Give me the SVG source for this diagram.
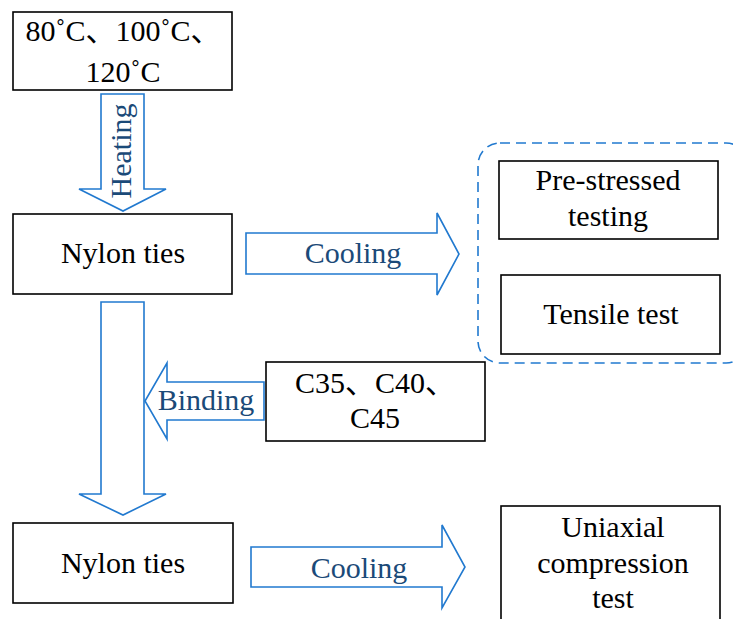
<svg xmlns="http://www.w3.org/2000/svg" width="733" height="619" viewBox="0 0 733 619">
<style>
.box{fill:#fff;stroke:#000;stroke-width:1.6}
.arr{fill:#fff;stroke:#2179CF;stroke-width:1.6;stroke-linejoin:miter}
.t{font-family:'Liberation Serif','Times New Roman','DejaVu Serif',serif;font-size:30px;fill:#000;text-anchor:middle}
.l{font-family:'Liberation Serif','Times New Roman','DejaVu Serif',serif;font-size:30px;fill:#1B4A78;text-anchor:middle}
.cjk{font-family:'Noto Sans CJK SC',sans-serif}
.dash{fill:none;stroke:#2179CF;stroke-width:1.6;stroke-dasharray:10 6}
</style>
<rect width="733" height="619" fill="#fff"/>
<g id="connectors">
<g id="heating">
<polygon class="arr" points="101,94 144,94 144,189 166,189 123,211 79,189 101,189"/>
<text class="l" transform="translate(131,151) rotate(-90)">Heating</text>
</g>
<g id="cooling1">
<polygon class="arr" points="246,233 437,233 437,213 459,254 437,295 437,274 246,274"/>
<text class="l" x="353" y="263">Cooling</text>
</g>
<g id="down">
<polygon class="arr" points="101,302 144,302 144,494 166,494 123,515 79,494 101,494"/>
</g>
<g id="binding">
<polygon class="arr" points="264,382 167,382 167,363 145,401 167,439 167,420 264,420"/>
<text class="l" x="206" y="410">Binding</text>
</g>
<g id="cooling2">
<polygon class="arr" points="251,547 442,547 442,525 465,567 442,608 442,587 251,587"/>
<text class="l" x="359" y="578">Cooling</text>
</g>
</g>
<g id="temps">
<rect class="box" x="13" y="12" width="219" height="78"/>
<text class="t" x="123" y="41">80˚C<tspan class="cjk">、</tspan>100˚C<tspan class="cjk">、</tspan></text>
<text class="t" x="123" y="82">120˚C</text>
</g>
<g id="nylon1">
<rect class="box" x="13" y="214" width="219" height="80"/>
<text class="t" x="123" y="263">Nylon ties</text>
</g>
<g id="group-tests">
<rect class="dash" x="478" y="143" width="270" height="220" rx="22" ry="22"/>
</g>
<g id="prestressed">
<rect class="box" x="499" y="161" width="219" height="78"/>
<text class="t" x="608" y="190">Pre-stressed</text>
<text class="t" x="608" y="226">testing</text>
</g>
<g id="tensile">
<rect class="box" x="501" y="275" width="219" height="79"/>
<text class="t" x="611" y="324">Tensile test</text>
</g>
<g id="concrete">
<rect class="box" x="266" y="362" width="219" height="79"/>
<text class="t" x="375" y="393">C35<tspan class="cjk">、</tspan>C40<tspan class="cjk">、</tspan></text>
<text class="t" x="375" y="428">C45</text>
</g>
<g id="nylon2">
<rect class="box" x="13" y="523" width="220" height="80"/>
<text class="t" x="123" y="573">Nylon ties</text>
</g>
<g id="uniaxial">
<rect class="box" x="501" y="506" width="219" height="130"/>
<text class="t" x="613" y="537">Uniaxial</text>
<text class="t" x="613" y="573">compression</text>
<text class="t" x="613" y="608">test</text>
</g>
</svg>
